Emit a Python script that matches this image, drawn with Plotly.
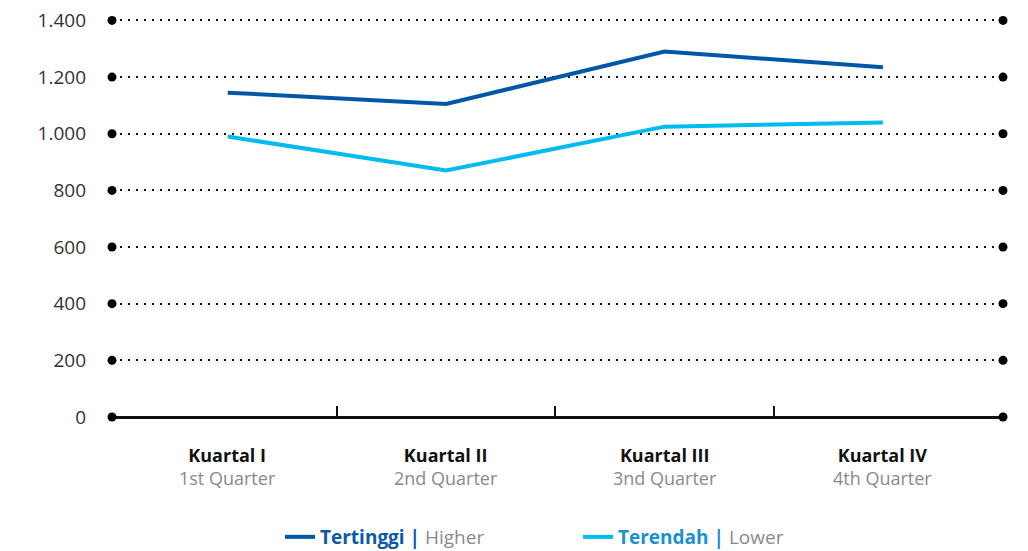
import plotly.graph_objects as go

categories = ["Kuartal I", "Kuartal II", "Kuartal III", "Kuartal IV"]
categories_en = ["1st Quarter", "2nd Quarter", "3nd Quarter", "4th Quarter"]
higher = [1145, 1105, 1290, 1235]
lower = [990, 870, 1025, 1040]
y_ticks = [0, 200, 400, 600, 800, 1000, 1200, 1400]

HIGH_COLOR = "#0057a8"
LOW_COLOR = "#00bbf0"
X_RANGE = [-0.53, 3.55]
Y_RANGE = [0, 1405]

xs = list(range(len(categories)))

fig = go.Figure()
fig.add_trace(go.Scatter(
    x=xs, y=higher, mode="lines",
    line=dict(color=HIGH_COLOR, width=4),
    name="<span style='color:#0a5aa8'><b>Tertinggi |</b></span> <span style='color:#8a8a8a'>Higher</span>",
))
fig.add_trace(go.Scatter(
    x=xs, y=lower, mode="lines",
    line=dict(color=LOW_COLOR, width=4),
    name="<span style='color:#1a8fd2'><b>Terendah |</b></span> <span style='color:#8a8a8a'>Lower</span>",
))
# end dots of the gridlines
fig.add_trace(go.Scatter(
    x=[X_RANGE[0]] * len(y_ticks) + [X_RANGE[1]] * len(y_ticks),
    y=y_ticks + y_ticks, mode="markers",
    marker=dict(color="black", size=9), cliponaxis=False,
    showlegend=False, hoverinfo="skip",
))

for i, (c, e) in enumerate(zip(categories, categories_en)):
    fig.add_annotation(
        x=i, y=0, xref="x", yref="paper", yanchor="top", yshift=-24,
        showarrow=False, align="center",
        text=f"<b>{c}</b><br><span style='color:#8a8a8a'>{e}</span>",
        font=dict(family="Open Sans", size=18, color="#111"),
    )

fig.update_layout(
    width=1028, height=551,
    margin=dict(l=112, r=25, t=19, b=134, autoexpand=False),
    paper_bgcolor="white", plot_bgcolor="white",
    separators=",.",
    font=dict(family="Open Sans", size=18, color="#333"),
    xaxis=dict(
        range=X_RANGE, tickvals=[0.5, 1.5, 2.5], ticktext=["", "", ""],
        ticks="inside", ticklen=11, tickwidth=2, tickcolor="#111",
        showgrid=False, zeroline=False, showline=False,
    ),
    yaxis=dict(
        range=Y_RANGE, tickvals=y_ticks, tickformat=",d",
        showgrid=True, gridcolor="#111", gridwidth=1.6, griddash="1.6px,6.4px",
        zeroline=True, zerolinecolor="#111", zerolinewidth=2.5,
        showline=False, ticks="", ticklabelstandoff=25,
        tickfont=dict(family="Open Sans", size=19, color="#333"),
    ),
    legend=dict(
        orientation="h", xref="container", yref="container",
        x=280 / 1028, xanchor="left", y=1 - 537 / 551, yanchor="middle",
        entrywidth=253, entrywidthmode="pixels",
        font=dict(family="Open Sans", size=19),
    ),
    showlegend=True,
)

fig.write_html("out.html", config={"displayModeBar": False},
               post_script="document.body.style.margin='0px';")
